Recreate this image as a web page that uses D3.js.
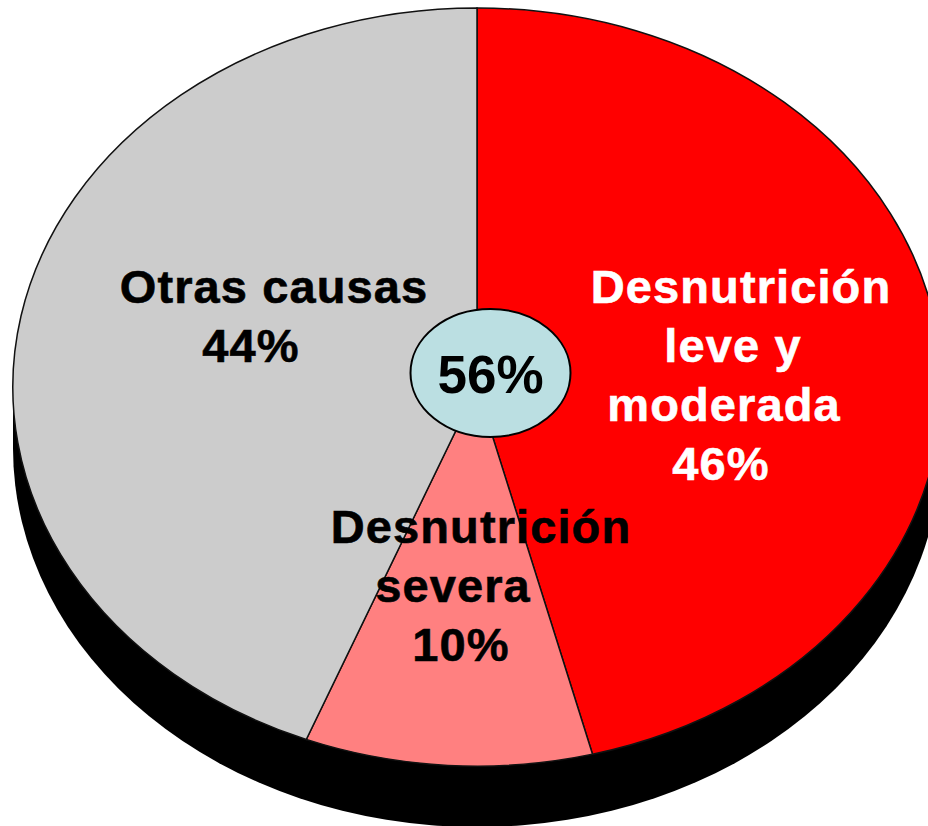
<!DOCTYPE html>
<html>
<head>
<meta charset="utf-8">
<script src="https://cdn.jsdelivr.net/npm/d3@7"></script>
<style>
html, body { margin: 0; padding: 0; background: #fff; overflow: hidden; }
svg { display: block; }
</style>
</head>
<body>
<div id="chart-area"></div>
<script>
// Datos
var categories = ["Desnutrición leve y moderada", "Desnutrición severa", "Otras causas"];
var values = [46, 10, 44];
var colors = ["#ff0000", "#ff8080", "#cccccc"];
var labelLines = [
    ["Desnutrición", "leve y", "moderada", "46%"],
    ["Desnutrición", "severa", "10%"],
    ["Otras causas", "44%"]
];
var centerLabel = "56%";

var width = 928;
var height = 826;

var svg = d3.select("#chart-area")
    .append("svg")
    .attr("width", width)
    .attr("height", height);

// Elipse del pastel
var cx = 477, cy = 387, rx = 464, ry = 379;
var depth = 61;

var pie = d3.pie().sort(null).value((d) => { return d; });
var arcs = pie(values);
var arc = d3.arc().innerRadius(0).outerRadius(1);

// Sombra negra (lado del pastel)
svg.append("path")
    .attr("d", d3.arc().innerRadius(0).outerRadius(1).startAngle(0).endAngle(2 * Math.PI)())
    .attr("transform", "translate(" + cx + "," + (cy + depth) + ") scale(" + rx + "," + ry + ")")
    .attr("fill", "black");
svg.append("rect")
    .attr("x", cx - rx)
    .attr("y", cy)
    .attr("width", 2 * rx)
    .attr("height", depth)
    .attr("fill", "black");

// Porciones
svg.append("g")
    .attr("transform", "translate(" + cx + "," + cy + ") scale(" + rx + "," + ry + ")")
    .selectAll("path")
    .data(arcs)
    .enter().append("path")
    .attr("d", arc)
    .attr("fill", (d, i) => { return colors[i]; })
    .attr("stroke", "#111")
    .attr("stroke-width", 1.5)
    .attr("vector-effect", "non-scaling-stroke");

// Etiquetas: centro horizontal de cada linea
var labelCenters = [[741, 733, 724, 721], [481, 453, 461], [274, 251]];
var labelTop = [303, 543, 303];
var labelFill = ["white", "black", "black"];
var lineStep = 59;

labelLines.forEach((lines, i) => {
    var t = svg.append("text")
        .attr("text-anchor", "middle")
        .attr("font-family", "Liberation Sans, Arial, sans-serif")
        .attr("font-weight", "bold")
        .attr("font-size", "47px")
        .attr("letter-spacing", "1.1px")
        .attr("fill", labelFill[i])
        .attr("stroke", labelFill[i])
        .attr("stroke-width", 0.6);
    lines.forEach((line, j) => {
        t.append("tspan")
            .attr("x", labelCenters[i][j])
            .attr("y", labelTop[i] + j * lineStep)
            .text(line);
    });
});

// Ovalo central
svg.append("ellipse")
    .attr("cx", 490.5)
    .attr("cy", 373)
    .attr("rx", 80)
    .attr("ry", 64)
    .attr("fill", "#bbdfe2")
    .attr("stroke", "black")
    .attr("stroke-width", 2);

svg.append("text")
    .attr("x", 490.5)
    .attr("y", 393)
    .attr("text-anchor", "middle")
    .attr("font-family", "Liberation Sans, Arial, sans-serif")
    .attr("font-weight", "bold")
    .attr("font-size", "53px")
    .attr("fill", "black")
    .text(centerLabel);
</script>
</body>
</html>
